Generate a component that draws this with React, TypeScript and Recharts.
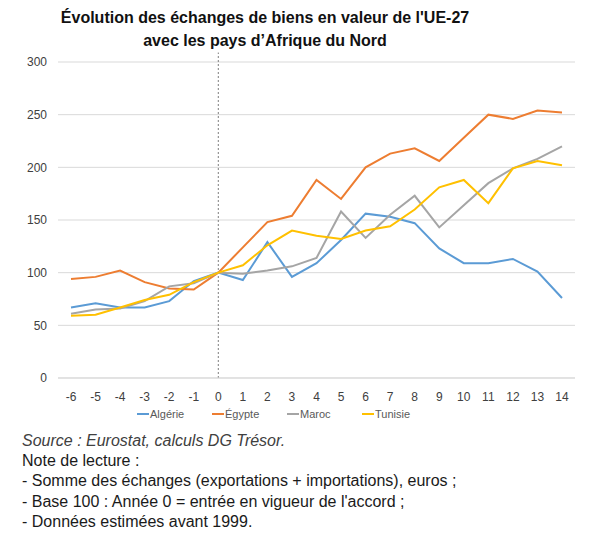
import { CartesianGrid, Legend, Line, LineChart, ReferenceLine, XAxis, YAxis } from 'recharts';

const years = [-6, -5, -4, -3, -2, -1, 0, 1, 2, 3, 4, 5, 6, 7, 8, 9, 10, 11, 12, 13, 14];

const algerie = [67, 71, 67, 67, 73, 92, 100, 93, 129, 96, 109, 131, 156, 153, 147, 123, 109, 109, 113, 101, 76];
const egypte = [94, 96, 102, 91, 85, 84, 100, 124, 148, 154, 188, 170, 200, 213, 218, 206, 228, 250, 246, 254, 252];
const maroc = [61, 65, 66, 73, 87, 90, 100, 99, 102, 106, 114, 158, 133, 155, 173, 143, 164, 185, 199, 208, 220];
const tunisie = [59, 60, 67, 74, 79, 91, 100, 107, 126, 140, 135, 132, 140, 144, 160, 181, 188, 166, 199, 206, 202];

const yTicks = [0, 50, 100, 150, 200, 250, 300];

const series = [
  { key: 'algerie', name: 'Algérie', color: '#5B9BD5' },
  { key: 'egypte', name: 'Égypte', color: '#ED7D31' },
  { key: 'maroc', name: 'Maroc', color: '#A5A5A5' },
  { key: 'tunisie', name: 'Tunisie', color: '#FFC000' },
];

const notes = [
  "Note de lecture :",
  "- Somme des échanges (exportations + importations), euros ;",
  "- Base 100 : Année 0 = entrée en vigueur de l'accord ;",
  "- Données estimées avant 1999.",
];

const data = years.map((year, i) => ({
  year,
  algerie: algerie[i],
  egypte: egypte[i],
  maroc: maroc[i],
  tunisie: tunisie[i],
}));

const font = '"Liberation Sans", Arial, sans-serif';

function LegendRow({ payload }: { payload?: any[] }) {
  const order = series.map((s) => s.name);
  const items = [...(payload || [])].sort((a, b) => order.indexOf(a.value) - order.indexOf(b.value));
  return (
    <div style={{ display: 'flex', justifyContent: 'flex-start', fontSize: 11, color: '#595959', paddingLeft: 137 }}>
      {items.map((p) => (
        <div key={p.value} style={{ display: 'flex', alignItems: 'center', width: 75 }}>
          <span style={{ display: 'inline-block', width: 12, height: 2, background: p.color, marginRight: 1 }} />
          <span>{p.value}</span>
        </div>
      ))}
    </div>
  );
}

export default function App() {
  return (
    <div style={{ position: 'absolute', left: 0, top: 0, width: 600, height: 539, background: '#fff', fontFamily: font }}>
      <div style={{ position: 'absolute', left: 0, top: 6, width: 530, textAlign: 'center', fontWeight: 'bold', fontSize: 16, lineHeight: '23px', color: '#111' }}>
        Évolution des échanges de biens en valeur de l'UE-27
        <br />
        avec les pays d’Afrique du Nord
      </div>
      <div style={{ position: 'absolute', left: 0, top: 0 }}>
        <LineChart width={600} height={432} data={data} margin={{ top: 62, right: 25, left: 0, bottom: 0 }}>
          <CartesianGrid vertical={false} stroke="#D9D9D9" />
          <XAxis
            dataKey="year"
            tickLine={false}
            axisLine={{ stroke: '#D9D9D9' }}
            tick={{ fill: '#404040', fontSize: 12, fontFamily: font }}
            tickMargin={8}
            interval={0}
            padding={{ left: 13, right: 13 }}
          />
          <YAxis
            domain={[0, 300]}
            ticks={yTicks}
            width={58}
            tickLine={false}
            axisLine={false}
            tick={{ fill: '#404040', fontSize: 12, fontFamily: font }}
            tickMargin={5}
          />
          <ReferenceLine
            segment={[{ x: 0, y: 0 }, { x: 0, y: 309 }]}
            ifOverflow="visible"
            stroke="#7F7F7F"
            strokeDasharray="2 2"
          />
          {series.map((s) => (
            <Line
              key={s.key}
              dataKey={s.key}
              name={s.name}
              stroke={s.color}
              strokeWidth={2}
              dot={false}
              type="linear"
              isAnimationActive={false}
            />
          ))}
          <Legend verticalAlign="bottom" height={24} content={<LegendRow />} />
        </LineChart>
      </div>
      <div style={{ position: 'absolute', left: 22, top: 431, fontSize: 16, lineHeight: '20.2px', color: '#1a1a1a' }}>
        <div style={{ fontStyle: 'italic', color: '#404040' }}>Source : Eurostat, calculs DG Trésor.</div>
        {notes.map((n) => (
          <div key={n}>{n}</div>
        ))}
      </div>
    </div>
  );
}
